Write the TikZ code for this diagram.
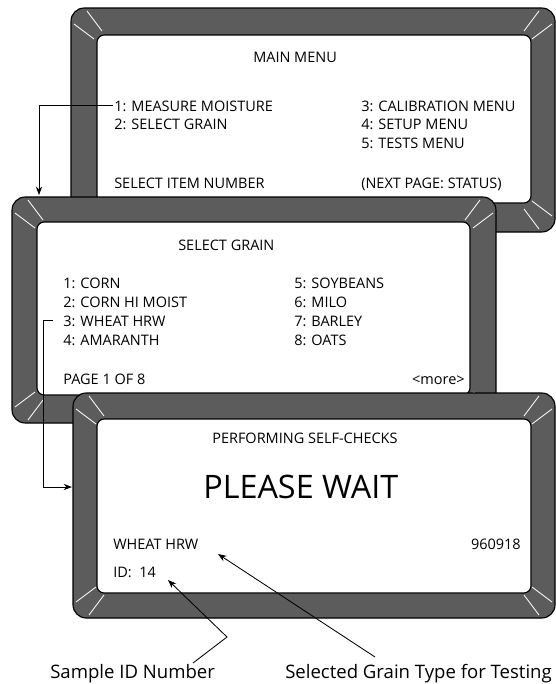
\documentclass[tikz,border=0pt]{standalone}
\usepackage{fontspec}
\setmainfont{Open Sans}
\usepackage{tikz}
\usetikzlibrary{arrows.meta, calc}
\definecolor{grisecran}{RGB}{92,92,92}

\begin{document}
\begin{tikzpicture}[x=0.025cm, y=-0.025cm, font=\fontsize{10.3}{12}\selectfont,
    ecran/.style={inner sep=0pt, anchor=base west},
    fleche/.style={-{Stealth[length=6pt, width=4.5pt]}, line width=0.6pt},
    biseau/.style={white, line width=0.6pt}]
    \useasboundingbox (0,0) rectangle (556,684);
    \def\biseaux{\draw[biseau] (3,16) -- (23,31) (16,3) -- (31,23);}
    \def\bezel#1#2#3#4{
      \filldraw[fill=grisecran, line width=0.8pt, rounded corners=0.33cm] #1 rectangle #2;
      \filldraw[fill=white, line width=0.8pt, rounded corners=0.18cm] #3 rectangle #4;
      \coordinate (o1) at #1;
      \coordinate (o2) at #2;
      \begin{scope}[shift={(o1)}] \biseaux \end{scope}
      \begin{scope}[shift={(o2 |- o1)}, xscale=-1] \biseaux \end{scope}
      \begin{scope}[shift={(o1 |- o2)}, yscale=-1] \biseaux \end{scope}
      \begin{scope}[shift={(o2)}, xscale=-1, yscale=-1] \biseaux \end{scope}
    }
    % main menu
    \bezel{(71,8)}{(555,232)}{(97,35)}{(531,203)}
    \node[ecran] (mainttl) at (253,62) {MAIN MENU};
    \node[ecran] (mm1) at (114,111) {1: MEASURE MOISTURE};
    \node[ecran] (mm2) at (114,129.5) {2: SELECT GRAIN};
    \node[ecran] (mmsel) at (114,188) {SELECT ITEM NUMBER};
    \node[ecran] (mm3) at (361,111) {3: CALIBRATION MENU};
    \node[ecran] (mm4) at (361,129.5) {4: SETUP MENU};
    \node[ecran] (mm5) at (361,148) {5: TESTS MENU};
    \node[ecran] (mmnext) at (361,188) {(NEXT PAGE: STATUS)};
    % select grain
    \bezel{(12,197)}{(496,423)}{(37,222)}{(470,395)}
    \node[ecran] (sgttl) at (178,250) {SELECT GRAIN};
    \node[ecran] (g1) at (63,288) {1: CORN};
    \node[ecran] (g2) at (63,307) {2: CORN HI MOIST};
    \node[ecran] (g3) at (63,326) {3: WHEAT HRW};
    \node[ecran] (g4) at (63,345) {4: AMARANTH};
    \node[ecran] (gpage) at (63,384) {PAGE 1 OF 8};
    \node[ecran] (g5) at (294,288) {5: SOYBEANS};
    \node[ecran] (g6) at (294,307) {6: MILO};
    \node[ecran] (g7) at (294,326) {7: BARLEY};
    \node[ecran] (g8) at (294,345) {8: OATS};
    \node[ecran, anchor=base east] (gmore) at (465,384) {\textless more\textgreater};
    % self-checks
    \bezel{(73,393)}{(555,618)}{(97,419)}{(531,593)}
    \node[ecran] (pscheck) at (212,443) {PERFORMING SELF-CHECKS};
    \node[ecran, font=\fontsize{23}{27}\selectfont] (pwait) at (203,498) {PLEASE WAIT};
    \node[ecran] (pgrain) at (113,549) {WHEAT HRW};
    \node[ecran, anchor=base east] (pdate) at (521,549) {960918};
    \node[ecran] (pid) at (113,577) {ID:\ \ 14};
    % labels
    \node[ecran, font=\fontsize{13.2}{16}\selectfont] (lblid) at (50,678) {Sample ID Number};
    \node[ecran, font=\fontsize{13.2}{16}\selectfont] (lblgrain) at (285,678) {Selected Grain Type for Testing};
    \coordinate (sgtop) at (39,195);
    \coordinate (bendB) at (43,487);
    \coordinate (selfin) at (72,487);
    \coordinate (idfoot) at (193,663);
    \coordinate (idknee) at (227,637);
    \coordinate (idtip) at (168,580);
    \coordinate (grfoot) at (375,657);
    \coordinate (grtip) at (218,554);
    \draw[fleche, shorten <=1pt] (mm1.west) -| (sgtop);
    \draw[fleche, shorten <=7pt] (g3.west) -| (bendB) -- (selfin);
    \draw[fleche] (idfoot) -- (idknee) -- (idtip);
    \draw[fleche] (grfoot) -- (grtip);
  \end{tikzpicture}
\end{document}
